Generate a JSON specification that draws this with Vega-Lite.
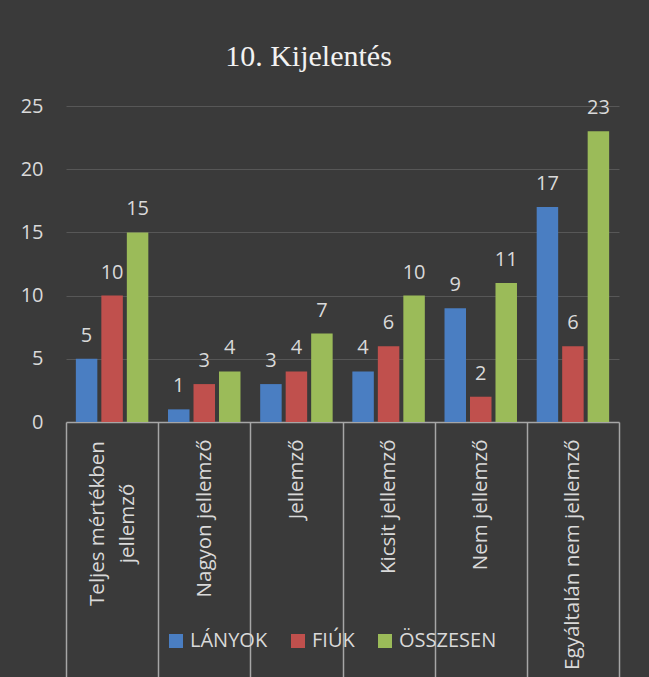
{
  "$schema": "https://vega.github.io/schema/vega-lite/v6.json",
  "width": 553,
  "height": 316,
  "autosize": "none",
  "padding": {"left": 66, "top": 106, "right": 30, "bottom": 255},
  "background": "#3a3a3a",
  "title": {"text": "10. Kijelentés", "font": "Liberation Serif", "fontSize": 30, "fontWeight": "normal", "color": "#f2f2f2", "offset": 24, "dx": -34, "anchor": "middle"},
  "data": {
    "values": [
      {"kategoria": "Teljes mértékben jellemző", "csoport": "LÁNYOK", "ertek": 5},
      {"kategoria": "Teljes mértékben jellemző", "csoport": "FIÚK", "ertek": 10},
      {"kategoria": "Teljes mértékben jellemző", "csoport": "ÖSSZESEN", "ertek": 15},
      {"kategoria": "Nagyon jellemző", "csoport": "LÁNYOK", "ertek": 1},
      {"kategoria": "Nagyon jellemző", "csoport": "FIÚK", "ertek": 3},
      {"kategoria": "Nagyon jellemző", "csoport": "ÖSSZESEN", "ertek": 4},
      {"kategoria": "Jellemző", "csoport": "LÁNYOK", "ertek": 3},
      {"kategoria": "Jellemző", "csoport": "FIÚK", "ertek": 4},
      {"kategoria": "Jellemző", "csoport": "ÖSSZESEN", "ertek": 7},
      {"kategoria": "Kicsit jellemző", "csoport": "LÁNYOK", "ertek": 4},
      {"kategoria": "Kicsit jellemző", "csoport": "FIÚK", "ertek": 6},
      {"kategoria": "Kicsit jellemző", "csoport": "ÖSSZESEN", "ertek": 10},
      {"kategoria": "Nem jellemző", "csoport": "LÁNYOK", "ertek": 9},
      {"kategoria": "Nem jellemző", "csoport": "FIÚK", "ertek": 2},
      {"kategoria": "Nem jellemző", "csoport": "ÖSSZESEN", "ertek": 11},
      {"kategoria": "Egyáltalán nem jellemző", "csoport": "LÁNYOK", "ertek": 17},
      {"kategoria": "Egyáltalán nem jellemző", "csoport": "FIÚK", "ertek": 6},
      {"kategoria": "Egyáltalán nem jellemző", "csoport": "ÖSSZESEN", "ertek": 23}
    ]
  },
  "encoding": {
    "x": {
      "field": "kategoria",
      "type": "nominal",
      "sort": ["Teljes mértékben jellemző", "Nagyon jellemző", "Jellemző", "Kicsit jellemző", "Nem jellemző", "Egyáltalán nem jellemző"],
      "scale": {"paddingInner": 0, "paddingOuter": 0},
      "axis": {
        "title": null,
        "labelAngle": -90,
        "tickBand": "extent",
        "tickSize": 255,
        "tickColor": "#a6a6a6",
        "tickWidth": 1.5,
        "domainColor": "#a6a6a6",
        "domainWidth": 1.5,
        "labelColor": "#d9d9d9",
        "labelFont": "Open Sans",
        "labelFontSize": 20.5,
        "labelLimit": 0,
        "labelOverlap": false,
        "labelBaseline": "middle",
        "labelLineHeight": 30,
        "labelPadding": {"condition": {"test": "datum.value == 'Teljes mértékben jellemző'", "value": -154}, "value": -238},
        "labelOffset": {"condition": {"test": "datum.value == 'Teljes mértékben jellemző'", "value": -15}, "value": 0},
        "labelAlign": {"condition": {"test": "datum.value == 'Teljes mértékben jellemző'", "value": "center"}, "value": "right"},
        "labelExpr": "datum.value == 'Teljes mértékben jellemző' ? ['Teljes mértékben', 'jellemző'] : datum.label"
      }
    },
    "xOffset": {
      "field": "csoport",
      "type": "nominal",
      "sort": ["LÁNYOK", "FIÚK", "ÖSSZESEN"],
      "scale": {"paddingInner": 0.157, "paddingOuter": 0.386}
    },
    "y": {
      "field": "ertek",
      "type": "quantitative",
      "scale": {"domain": [0, 25]},
      "axis": {
        "title": null,
        "values": [0, 5, 10, 15, 20, 25],
        "domain": false,
        "ticks": false,
        "labelPadding": 23,
        "labelColor": "#d9d9d9",
        "labelFont": "Open Sans",
        "labelFontSize": 20,
        "gridColor": "#575757",
        "gridWidth": 1.2,
        "gridOpacity": {"condition": {"test": "datum.value == 0", "value": 0}, "value": 1}
      }
    }
  },
  "layer": [
    {
      "mark": {"type": "bar"},
      "encoding": {
        "color": {
          "field": "csoport",
          "type": "nominal",
          "sort": ["LÁNYOK", "FIÚK", "ÖSSZESEN"],
          "scale": {"domain": ["LÁNYOK", "FIÚK", "ÖSSZESEN"], "range": ["#4a7ec2", "#c0504d", "#9bbb59"]},
          "legend": {
            "orient": "none",
            "legendX": 100,
            "legendY": 525,
            "direction": "horizontal",
            "title": null,
            "symbolType": "square",
            "symbolSize": 196,
            "symbolStrokeWidth": 0,
            "labelFont": "Open Sans",
            "labelFontSize": 20,
            "labelColor": "#d9d9d9",
            "columnPadding": 20,
            "labelOffset": 4
          }
        }
      }
    },
    {
      "mark": {"type": "text", "baseline": "alphabetic", "dy": -17, "font": "Open Sans", "fontSize": 20, "color": "#d9d9d9"},
      "encoding": {"text": {"field": "ertek", "type": "quantitative"}}
    }
  ],
  "config": {"view": {"stroke": null}}
}
